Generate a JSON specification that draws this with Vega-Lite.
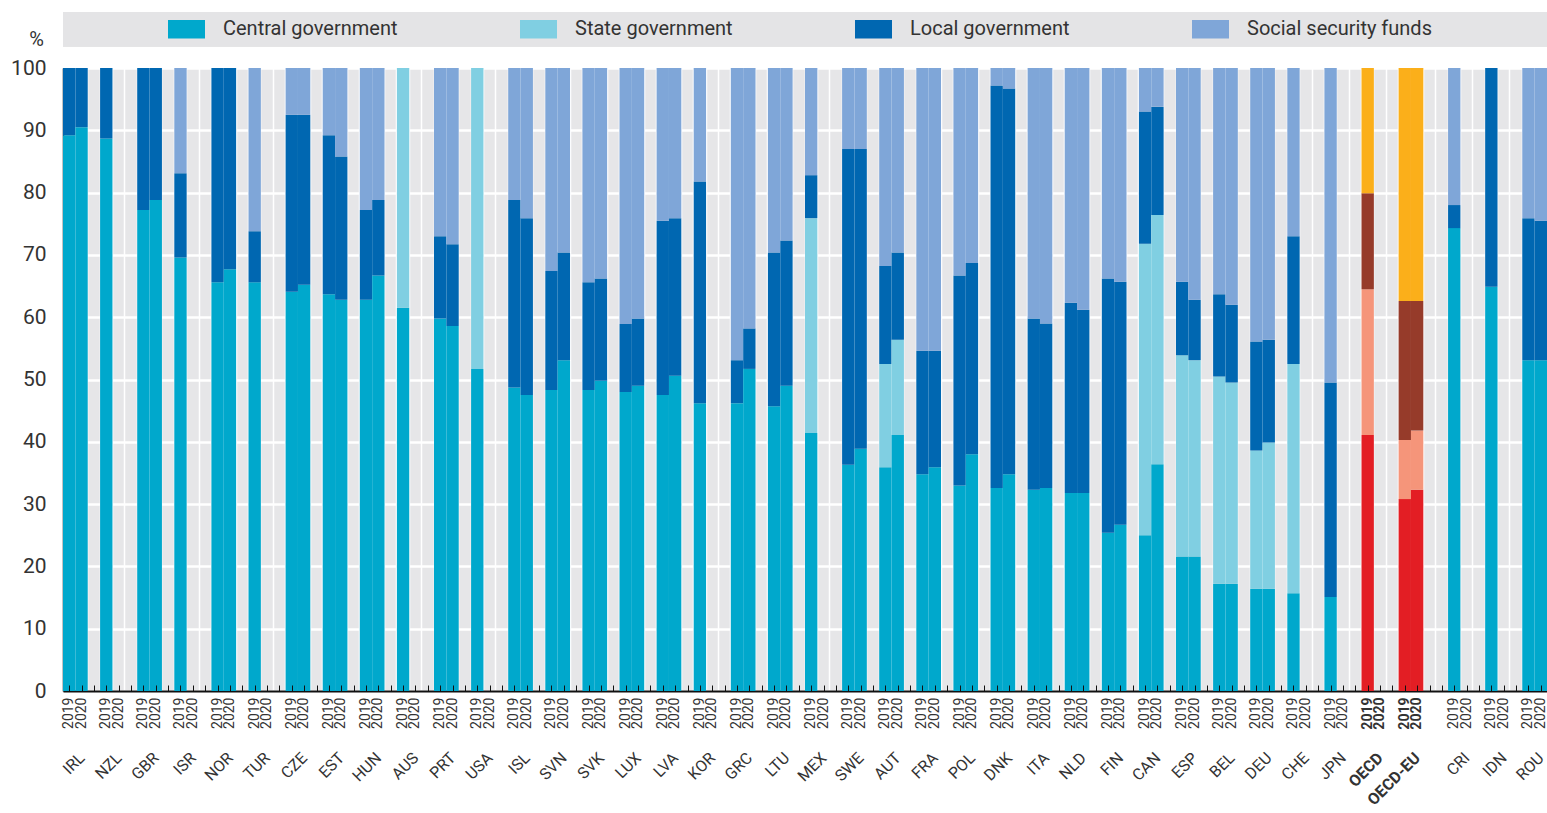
{
  "$schema": "https://vega.github.io/schema/vega-lite/v6.json",
  "width": 1484,
  "height": 623,
  "autosize": {"type": "none"},
  "padding": {"left": 63, "top": 68, "right": 0, "bottom": 122},
  "background": "white",
  "config": {
    "view": {"fill": "#e6e6e8", "stroke": null},
    "font": "Roboto"
  },
  "datasets": {
    "slots": [
      {"s":"IRL|2019","c":"cg","v":89.2,"o":1},{"s":"IRL|2019","c":"lg","v":10.8,"o":3},
      {"s":"IRL|2020","c":"cg","v":90.5,"o":1},{"s":"IRL|2020","c":"lg","v":9.5,"o":3},
      {"s":"NZL|2019","c":"cg","v":88.7,"o":1},{"s":"NZL|2019","c":"lg","v":11.3,"o":3},
      {"s":"GBR|2019","c":"cg","v":77.2,"o":1},{"s":"GBR|2019","c":"lg","v":22.8,"o":3},
      {"s":"GBR|2020","c":"cg","v":78.8,"o":1},{"s":"GBR|2020","c":"lg","v":21.2,"o":3},
      {"s":"ISR|2019","c":"cg","v":69.6,"o":1},{"s":"ISR|2019","c":"lg","v":13.5,"o":3},{"s":"ISR|2019","c":"ss","v":16.9,"o":4},
      {"s":"NOR|2019","c":"cg","v":65.6,"o":1},{"s":"NOR|2019","c":"lg","v":34.4,"o":3},
      {"s":"NOR|2020","c":"cg","v":67.7,"o":1},{"s":"NOR|2020","c":"lg","v":32.3,"o":3},
      {"s":"TUR|2019","c":"cg","v":65.6,"o":1},{"s":"TUR|2019","c":"lg","v":8.2,"o":3},{"s":"TUR|2019","c":"ss","v":26.2,"o":4},
      {"s":"CZE|2019","c":"cg","v":64.1,"o":1},{"s":"CZE|2019","c":"lg","v":28.4,"o":3},{"s":"CZE|2019","c":"ss","v":7.5,"o":4},
      {"s":"CZE|2020","c":"cg","v":65.2,"o":1},{"s":"CZE|2020","c":"lg","v":27.3,"o":3},{"s":"CZE|2020","c":"ss","v":7.5,"o":4},
      {"s":"EST|2019","c":"cg","v":63.7,"o":1},{"s":"EST|2019","c":"lg","v":25.5,"o":3},{"s":"EST|2019","c":"ss","v":10.8,"o":4},
      {"s":"EST|2020","c":"cg","v":62.8,"o":1},{"s":"EST|2020","c":"lg","v":23.0,"o":3},{"s":"EST|2020","c":"ss","v":14.2,"o":4},
      {"s":"HUN|2019","c":"cg","v":62.8,"o":1},{"s":"HUN|2019","c":"lg","v":14.4,"o":3},{"s":"HUN|2019","c":"ss","v":22.8,"o":4},
      {"s":"HUN|2020","c":"cg","v":66.7,"o":1},{"s":"HUN|2020","c":"lg","v":12.1,"o":3},{"s":"HUN|2020","c":"ss","v":21.2,"o":4},
      {"s":"AUS|2019","c":"cg","v":61.5,"o":1},{"s":"AUS|2019","c":"sg","v":38.5,"o":2},
      {"s":"PRT|2019","c":"cg","v":59.8,"o":1},{"s":"PRT|2019","c":"lg","v":13.2,"o":3},{"s":"PRT|2019","c":"ss","v":27.0,"o":4},
      {"s":"PRT|2020","c":"cg","v":58.6,"o":1},{"s":"PRT|2020","c":"lg","v":13.1,"o":3},{"s":"PRT|2020","c":"ss","v":28.3,"o":4},
      {"s":"USA|2019","c":"cg","v":51.7,"o":1},{"s":"USA|2019","c":"sg","v":48.3,"o":2},
      {"s":"ISL|2019","c":"cg","v":48.7,"o":1},{"s":"ISL|2019","c":"lg","v":30.1,"o":3},{"s":"ISL|2019","c":"ss","v":21.2,"o":4},
      {"s":"ISL|2020","c":"cg","v":47.5,"o":1},{"s":"ISL|2020","c":"lg","v":28.4,"o":3},{"s":"ISL|2020","c":"ss","v":24.1,"o":4},
      {"s":"SVN|2019","c":"cg","v":48.3,"o":1},{"s":"SVN|2019","c":"lg","v":19.1,"o":3},{"s":"SVN|2019","c":"ss","v":32.6,"o":4},
      {"s":"SVN|2020","c":"cg","v":53.1,"o":1},{"s":"SVN|2020","c":"lg","v":17.3,"o":3},{"s":"SVN|2020","c":"ss","v":29.6,"o":4},
      {"s":"SVK|2019","c":"cg","v":48.3,"o":1},{"s":"SVK|2019","c":"lg","v":17.3,"o":3},{"s":"SVK|2019","c":"ss","v":34.4,"o":4},
      {"s":"SVK|2020","c":"cg","v":49.8,"o":1},{"s":"SVK|2020","c":"lg","v":16.4,"o":3},{"s":"SVK|2020","c":"ss","v":33.8,"o":4},
      {"s":"LUX|2019","c":"cg","v":48.0,"o":1},{"s":"LUX|2019","c":"lg","v":10.9,"o":3},{"s":"LUX|2019","c":"ss","v":41.1,"o":4},
      {"s":"LUX|2020","c":"cg","v":49.0,"o":1},{"s":"LUX|2020","c":"lg","v":10.8,"o":3},{"s":"LUX|2020","c":"ss","v":40.2,"o":4},
      {"s":"LVA|2019","c":"cg","v":47.5,"o":1},{"s":"LVA|2019","c":"lg","v":28.0,"o":3},{"s":"LVA|2019","c":"ss","v":24.5,"o":4},
      {"s":"LVA|2020","c":"cg","v":50.6,"o":1},{"s":"LVA|2020","c":"lg","v":25.3,"o":3},{"s":"LVA|2020","c":"ss","v":24.1,"o":4},
      {"s":"KOR|2019","c":"cg","v":46.2,"o":1},{"s":"KOR|2019","c":"lg","v":35.6,"o":3},{"s":"KOR|2019","c":"ss","v":18.2,"o":4},
      {"s":"GRC|2019","c":"cg","v":46.2,"o":1},{"s":"GRC|2019","c":"lg","v":6.9,"o":3},{"s":"GRC|2019","c":"ss","v":46.9,"o":4},
      {"s":"GRC|2020","c":"cg","v":51.7,"o":1},{"s":"GRC|2020","c":"lg","v":6.5,"o":3},{"s":"GRC|2020","c":"ss","v":41.8,"o":4},
      {"s":"LTU|2019","c":"cg","v":45.7,"o":1},{"s":"LTU|2019","c":"lg","v":24.7,"o":3},{"s":"LTU|2019","c":"ss","v":29.6,"o":4},
      {"s":"LTU|2020","c":"cg","v":49.0,"o":1},{"s":"LTU|2020","c":"lg","v":23.3,"o":3},{"s":"LTU|2020","c":"ss","v":27.7,"o":4},
      {"s":"MEX|2019","c":"cg","v":41.4,"o":1},{"s":"MEX|2019","c":"sg","v":34.5,"o":2},{"s":"MEX|2019","c":"lg","v":6.9,"o":3},{"s":"MEX|2019","c":"ss","v":17.2,"o":4},
      {"s":"SWE|2019","c":"cg","v":36.3,"o":1},{"s":"SWE|2019","c":"lg","v":50.7,"o":3},{"s":"SWE|2019","c":"ss","v":13.0,"o":4},
      {"s":"SWE|2020","c":"cg","v":38.9,"o":1},{"s":"SWE|2020","c":"lg","v":48.1,"o":3},{"s":"SWE|2020","c":"ss","v":13.0,"o":4},
      {"s":"AUT|2019","c":"cg","v":35.9,"o":1},{"s":"AUT|2019","c":"sg","v":16.6,"o":2},{"s":"AUT|2019","c":"lg","v":15.7,"o":3},{"s":"AUT|2019","c":"ss","v":31.8,"o":4},
      {"s":"AUT|2020","c":"cg","v":41.1,"o":1},{"s":"AUT|2020","c":"sg","v":15.3,"o":2},{"s":"AUT|2020","c":"lg","v":14.0,"o":3},{"s":"AUT|2020","c":"ss","v":29.6,"o":4},
      {"s":"FRA|2019","c":"cg","v":34.8,"o":1},{"s":"FRA|2019","c":"lg","v":19.8,"o":3},{"s":"FRA|2019","c":"ss","v":45.4,"o":4},
      {"s":"FRA|2020","c":"cg","v":35.9,"o":1},{"s":"FRA|2020","c":"lg","v":18.7,"o":3},{"s":"FRA|2020","c":"ss","v":45.4,"o":4},
      {"s":"POL|2019","c":"cg","v":33.0,"o":1},{"s":"POL|2019","c":"lg","v":33.7,"o":3},{"s":"POL|2019","c":"ss","v":33.3,"o":4},
      {"s":"POL|2020","c":"cg","v":38.0,"o":1},{"s":"POL|2020","c":"lg","v":30.7,"o":3},{"s":"POL|2020","c":"ss","v":31.3,"o":4},
      {"s":"DNK|2019","c":"cg","v":32.6,"o":1},{"s":"DNK|2019","c":"lg","v":64.6,"o":3},{"s":"DNK|2019","c":"ss","v":2.8,"o":4},
      {"s":"DNK|2020","c":"cg","v":34.8,"o":1},{"s":"DNK|2020","c":"lg","v":61.9,"o":3},{"s":"DNK|2020","c":"ss","v":3.3,"o":4},
      {"s":"ITA|2019","c":"cg","v":32.3,"o":1},{"s":"ITA|2019","c":"lg","v":27.5,"o":3},{"s":"ITA|2019","c":"ss","v":40.2,"o":4},
      {"s":"ITA|2020","c":"cg","v":32.6,"o":1},{"s":"ITA|2020","c":"lg","v":26.4,"o":3},{"s":"ITA|2020","c":"ss","v":41.0,"o":4},
      {"s":"NLD|2019","c":"cg","v":31.8,"o":1},{"s":"NLD|2019","c":"lg","v":30.5,"o":3},{"s":"NLD|2019","c":"ss","v":37.7,"o":4},
      {"s":"NLD|2020","c":"cg","v":31.8,"o":1},{"s":"NLD|2020","c":"lg","v":29.4,"o":3},{"s":"NLD|2020","c":"ss","v":38.8,"o":4},
      {"s":"FIN|2019","c":"cg","v":25.4,"o":1},{"s":"FIN|2019","c":"lg","v":40.8,"o":3},{"s":"FIN|2019","c":"ss","v":33.8,"o":4},
      {"s":"FIN|2020","c":"cg","v":26.7,"o":1},{"s":"FIN|2020","c":"lg","v":39.0,"o":3},{"s":"FIN|2020","c":"ss","v":34.3,"o":4},
      {"s":"CAN|2019","c":"cg","v":25.0,"o":1},{"s":"CAN|2019","c":"sg","v":46.8,"o":2},{"s":"CAN|2019","c":"lg","v":21.2,"o":3},{"s":"CAN|2019","c":"ss","v":7.0,"o":4},
      {"s":"CAN|2020","c":"cg","v":36.4,"o":1},{"s":"CAN|2020","c":"sg","v":40.0,"o":2},{"s":"CAN|2020","c":"lg","v":17.4,"o":3},{"s":"CAN|2020","c":"ss","v":6.2,"o":4},
      {"s":"ESP|2019","c":"cg","v":21.6,"o":1},{"s":"ESP|2019","c":"sg","v":32.3,"o":2},{"s":"ESP|2019","c":"lg","v":11.8,"o":3},{"s":"ESP|2019","c":"ss","v":34.3,"o":4},
      {"s":"ESP|2020","c":"cg","v":21.6,"o":1},{"s":"ESP|2020","c":"sg","v":31.5,"o":2},{"s":"ESP|2020","c":"lg","v":9.7,"o":3},{"s":"ESP|2020","c":"ss","v":37.2,"o":4},
      {"s":"BEL|2019","c":"cg","v":17.2,"o":1},{"s":"BEL|2019","c":"sg","v":33.3,"o":2},{"s":"BEL|2019","c":"lg","v":13.2,"o":3},{"s":"BEL|2019","c":"ss","v":36.3,"o":4},
      {"s":"BEL|2020","c":"cg","v":17.2,"o":1},{"s":"BEL|2020","c":"sg","v":32.3,"o":2},{"s":"BEL|2020","c":"lg","v":12.5,"o":3},{"s":"BEL|2020","c":"ss","v":38.0,"o":4},
      {"s":"DEU|2019","c":"cg","v":16.4,"o":1},{"s":"DEU|2019","c":"sg","v":22.2,"o":2},{"s":"DEU|2019","c":"lg","v":17.5,"o":3},{"s":"DEU|2019","c":"ss","v":43.9,"o":4},
      {"s":"DEU|2020","c":"cg","v":16.4,"o":1},{"s":"DEU|2020","c":"sg","v":23.5,"o":2},{"s":"DEU|2020","c":"lg","v":16.5,"o":3},{"s":"DEU|2020","c":"ss","v":43.6,"o":4},
      {"s":"CHE|2019","c":"cg","v":15.7,"o":1},{"s":"CHE|2019","c":"sg","v":36.8,"o":2},{"s":"CHE|2019","c":"lg","v":20.5,"o":3},{"s":"CHE|2019","c":"ss","v":27.0,"o":4},
      {"s":"JPN|2019","c":"cg","v":15.1,"o":1},{"s":"JPN|2019","c":"lg","v":34.4,"o":3},{"s":"JPN|2019","c":"ss","v":50.5,"o":4},
      {"s":"OECD|2019","c":"ocg","v":41.1,"o":1},{"s":"OECD|2019","c":"osg","v":23.4,"o":2},{"s":"OECD|2019","c":"olg","v":15.4,"o":3},{"s":"OECD|2019","c":"oss","v":20.1,"o":4},
      {"s":"OECD-EU|2019","c":"ocg","v":30.8,"o":1},{"s":"OECD-EU|2019","c":"osg","v":9.5,"o":2},{"s":"OECD-EU|2019","c":"olg","v":22.3,"o":3},{"s":"OECD-EU|2019","c":"oss","v":37.4,"o":4},
      {"s":"OECD-EU|2020","c":"ocg","v":32.3,"o":1},{"s":"OECD-EU|2020","c":"osg","v":9.5,"o":2},{"s":"OECD-EU|2020","c":"olg","v":20.8,"o":3},{"s":"OECD-EU|2020","c":"oss","v":37.4,"o":4},
      {"s":"CRI|2019","c":"cg","v":74.3,"o":1},{"s":"CRI|2019","c":"lg","v":3.7,"o":3},{"s":"CRI|2019","c":"ss","v":22.0,"o":4},
      {"s":"IDN|2019","c":"cg","v":64.9,"o":1},{"s":"IDN|2019","c":"lg","v":35.1,"o":3},
      {"s":"ROU|2019","c":"cg","v":53.1,"o":1},{"s":"ROU|2019","c":"lg","v":22.8,"o":3},{"s":"ROU|2019","c":"ss","v":24.1,"o":4},
      {"s":"ROU|2020","c":"cg","v":53.1,"o":1},{"s":"ROU|2020","c":"lg","v":22.4,"o":3},{"s":"ROU|2020","c":"ss","v":24.5,"o":4}
    ]
  },
  "data": {"name": "slots"},
  "layer": [
    {
      "mark": {"type": "rect", "color": "#e4e4e6"},
      "encoding": {
        "x": {"value": 0},
        "x2": {"value": "width"},
        "y": {"datum": 109, "type": "quantitative", "scale": {"domain": [0, 100], "nice": false}},
        "y2": {"datum": 103.4}
      }
    },
    {
      "mark": {"type": "bar", "width": {"band": 1}},
      "encoding": {
        "x": {
          "field": "s", "type": "nominal",
          "scale": {"domain": ["IRL|2019","IRL|2020","IRL|g","NZL|2019","NZL|2020","NZL|g","GBR|2019","GBR|2020","GBR|g","ISR|2019","ISR|2020","ISR|g","NOR|2019","NOR|2020","NOR|g","TUR|2019","TUR|2020","TUR|g","CZE|2019","CZE|2020","CZE|g","EST|2019","EST|2020","EST|g","HUN|2019","HUN|2020","HUN|g","AUS|2019","AUS|2020","AUS|g","PRT|2019","PRT|2020","PRT|g","USA|2019","USA|2020","USA|g","ISL|2019","ISL|2020","ISL|g","SVN|2019","SVN|2020","SVN|g","SVK|2019","SVK|2020","SVK|g","LUX|2019","LUX|2020","LUX|g","LVA|2019","LVA|2020","LVA|g","KOR|2019","KOR|2020","KOR|g","GRC|2019","GRC|2020","GRC|g","LTU|2019","LTU|2020","LTU|g","MEX|2019","MEX|2020","MEX|g","SWE|2019","SWE|2020","SWE|g","AUT|2019","AUT|2020","AUT|g","FRA|2019","FRA|2020","FRA|g","POL|2019","POL|2020","POL|g","DNK|2019","DNK|2020","DNK|g","ITA|2019","ITA|2020","ITA|g","NLD|2019","NLD|2020","NLD|g","FIN|2019","FIN|2020","FIN|g","CAN|2019","CAN|2020","CAN|g","ESP|2019","ESP|2020","ESP|g","BEL|2019","BEL|2020","BEL|g","DEU|2019","DEU|2020","DEU|g","CHE|2019","CHE|2020","CHE|g","JPN|2019","JPN|2020","JPN|g","OECD|2019","OECD|2020","OECD|g","OECD-EU|2019","OECD-EU|2020","OECD-EU|g","gap|g","CRI|2019","CRI|2020","CRI|g","IDN|2019","IDN|2020","IDN|g","ROU|2019","ROU|2020"], "paddingInner": 0, "paddingOuter": 0},
          "axis": {
            "orient": "bottom", "title": null,
            "labelExpr": "split(datum.value,'|')[1] == 'g' ? '' : split(datum.value,'|')[1]",
            "labelAngle": -90, "labelAlign": "right", "labelBaseline": "middle",
            "labelFont": "Roboto", "labelFontSize": 14, "labelColor": "#333",
            "labelPadding": 6, "labelOffset": 0, "labelOverlap": false, "labelBound": false,
            "labelFontWeight": {"condition": {"test": "indexof(datum.value,'OECD')==0", "value": "bold"}, "value": "normal"},
            "bandPosition": 0, "tickSize": 0,
            "grid": true, "gridColor": "white", "gridWidth": 1.5,
            "domain": true, "domainColor": "#111", "domainWidth": 2
          }
        },
        "y": {
          "field": "v", "type": "quantitative", "stack": "zero",
          "scale": {"domain": [0, 100], "nice": false},
          "axis": {
            "title": "%", "titleAngle": 0, "titleX": -27, "titleY": -29,
            "titleAlign": "center", "titleBaseline": "middle",
            "titleFont": "Roboto", "titleFontSize": 20, "titleFontWeight": "normal", "titleColor": "#333",
            "labelFont": "Roboto", "labelFontSize": 21, "labelColor": "#333", "labelPadding": 17,
            "values": [0,10,20,30,40,50,60,70,80,90,100], "tickSize": 0,
            "grid": true, "gridColor": "white", "gridWidth": 2.5,
            "domain": true, "domainColor": "#111", "domainWidth": 1.5
          }
        },
        "color": {
          "field": "c", "type": "nominal",
          "scale": {
            "domain": ["cg","sg","lg","ss","ocg","osg","olg","oss"],
            "range": ["#00A8CC","#80CFE2","#0067B1","#7FA6D8","#E31E24","#F5957A","#963B2A","#FBAF1A"]
          },
          "legend": {
            "values": ["cg","sg","lg","ss"],
            "labelExpr": "datum.value == 'cg' ? 'Central government' : datum.value == 'sg' ? 'State government' : datum.value == 'lg' ? 'Local government' : 'Social security funds'",
            "title": null, "orient": "none", "legendX": 105, "legendY": -57.5,
            "direction": "horizontal", "columns": 4, "columnPadding": 122, "padding": 0,
            "symbolType": "M-1,-0.5H1V0.5H-1Z", "symbolSize": 1369, "symbolStrokeWidth": 0, "symbolOpacity": 1,
            "labelFont": "Roboto", "labelFontSize": 20, "labelColor": "#333", "labelOffset": 18, "labelLimit": 400
          }
        },
        "order": {"field": "o", "type": "quantitative"}
      }
    },
    {
      "mark": {"type": "point", "opacity": 0},
      "encoding": {
        "x": {
          "field": "s", "type": "nominal",
          "scale": {"domain": ["IRL|2019","IRL|2020","IRL|g","NZL|2019","NZL|2020","NZL|g","GBR|2019","GBR|2020","GBR|g","ISR|2019","ISR|2020","ISR|g","NOR|2019","NOR|2020","NOR|g","TUR|2019","TUR|2020","TUR|g","CZE|2019","CZE|2020","CZE|g","EST|2019","EST|2020","EST|g","HUN|2019","HUN|2020","HUN|g","AUS|2019","AUS|2020","AUS|g","PRT|2019","PRT|2020","PRT|g","USA|2019","USA|2020","USA|g","ISL|2019","ISL|2020","ISL|g","SVN|2019","SVN|2020","SVN|g","SVK|2019","SVK|2020","SVK|g","LUX|2019","LUX|2020","LUX|g","LVA|2019","LVA|2020","LVA|g","KOR|2019","KOR|2020","KOR|g","GRC|2019","GRC|2020","GRC|g","LTU|2019","LTU|2020","LTU|g","MEX|2019","MEX|2020","MEX|g","SWE|2019","SWE|2020","SWE|g","AUT|2019","AUT|2020","AUT|g","FRA|2019","FRA|2020","FRA|g","POL|2019","POL|2020","POL|g","DNK|2019","DNK|2020","DNK|g","ITA|2019","ITA|2020","ITA|g","NLD|2019","NLD|2020","NLD|g","FIN|2019","FIN|2020","FIN|g","CAN|2019","CAN|2020","CAN|g","ESP|2019","ESP|2020","ESP|g","BEL|2019","BEL|2020","BEL|g","DEU|2019","DEU|2020","DEU|g","CHE|2019","CHE|2020","CHE|g","JPN|2019","JPN|2020","JPN|g","OECD|2019","OECD|2020","OECD|g","OECD-EU|2019","OECD-EU|2020","OECD-EU|g","gap|g","CRI|2019","CRI|2020","CRI|g","IDN|2019","IDN|2020","IDN|g","ROU|2019","ROU|2020"], "type": "point", "padding": 0.5},
          "axis": {
            "orient": "bottom", "title": null, "offset": 64,
            "domain": false, "ticks": false, "grid": false,
            "labelExpr": "split(datum.value,'|')[1] == '2020' ? split(datum.value,'|')[0] : ''",
            "labelAngle": -45, "labelAlign": "right", "labelBaseline": "middle",
            "labelFont": "Roboto", "labelFontSize": 16, "labelColor": "#333",
            "labelPadding": 0, "labelOverlap": false, "labelBound": false,
            "labelFontWeight": {"condition": {"test": "indexof(datum.value,'OECD')==0", "value": "bold"}, "value": "normal"}
          }
        },
        "y": {"datum": 0, "type": "quantitative", "scale": {"domain": [0, 100], "nice": false}}
      }
    },
    {
      "mark": {"type": "point", "opacity": 0},
      "encoding": {
        "x": {
          "field": "s", "type": "nominal",
          "scale": {"domain": ["IRL|2019","IRL|2020","IRL|g","NZL|2019","NZL|2020","NZL|g","GBR|2019","GBR|2020","GBR|g","ISR|2019","ISR|2020","ISR|g","NOR|2019","NOR|2020","NOR|g","TUR|2019","TUR|2020","TUR|g","CZE|2019","CZE|2020","CZE|g","EST|2019","EST|2020","EST|g","HUN|2019","HUN|2020","HUN|g","AUS|2019","AUS|2020","AUS|g","PRT|2019","PRT|2020","PRT|g","USA|2019","USA|2020","USA|g","ISL|2019","ISL|2020","ISL|g","SVN|2019","SVN|2020","SVN|g","SVK|2019","SVK|2020","SVK|g","LUX|2019","LUX|2020","LUX|g","LVA|2019","LVA|2020","LVA|g","KOR|2019","KOR|2020","KOR|g","GRC|2019","GRC|2020","GRC|g","LTU|2019","LTU|2020","LTU|g","MEX|2019","MEX|2020","MEX|g","SWE|2019","SWE|2020","SWE|g","AUT|2019","AUT|2020","AUT|g","FRA|2019","FRA|2020","FRA|g","POL|2019","POL|2020","POL|g","DNK|2019","DNK|2020","DNK|g","ITA|2019","ITA|2020","ITA|g","NLD|2019","NLD|2020","NLD|g","FIN|2019","FIN|2020","FIN|g","CAN|2019","CAN|2020","CAN|g","ESP|2019","ESP|2020","ESP|g","BEL|2019","BEL|2020","BEL|g","DEU|2019","DEU|2020","DEU|g","CHE|2019","CHE|2020","CHE|g","JPN|2019","JPN|2020","JPN|g","OECD|2019","OECD|2020","OECD|g","OECD-EU|2019","OECD-EU|2020","OECD-EU|g","gap|g","CRI|2019","CRI|2020","CRI|g","IDN|2019","IDN|2020","IDN|g","ROU|2019","ROU|2020"], "paddingInner": 0, "paddingOuter": 0},
          "axis": {
            "orient": "bottom", "title": null, "zindex": 1,
            "domain": false, "labels": false, "grid": false,
            "ticks": true, "bandPosition": 0, "tickSize": -6, "tickColor": "#111", "tickWidth": 1
          }
        },
        "y": {"datum": 0, "type": "quantitative", "scale": {"domain": [0, 100], "nice": false}}
      }
    }
  ],
  "resolve": {"scale": {"x": "independent"}, "axis": {"x": "independent"}}
}
